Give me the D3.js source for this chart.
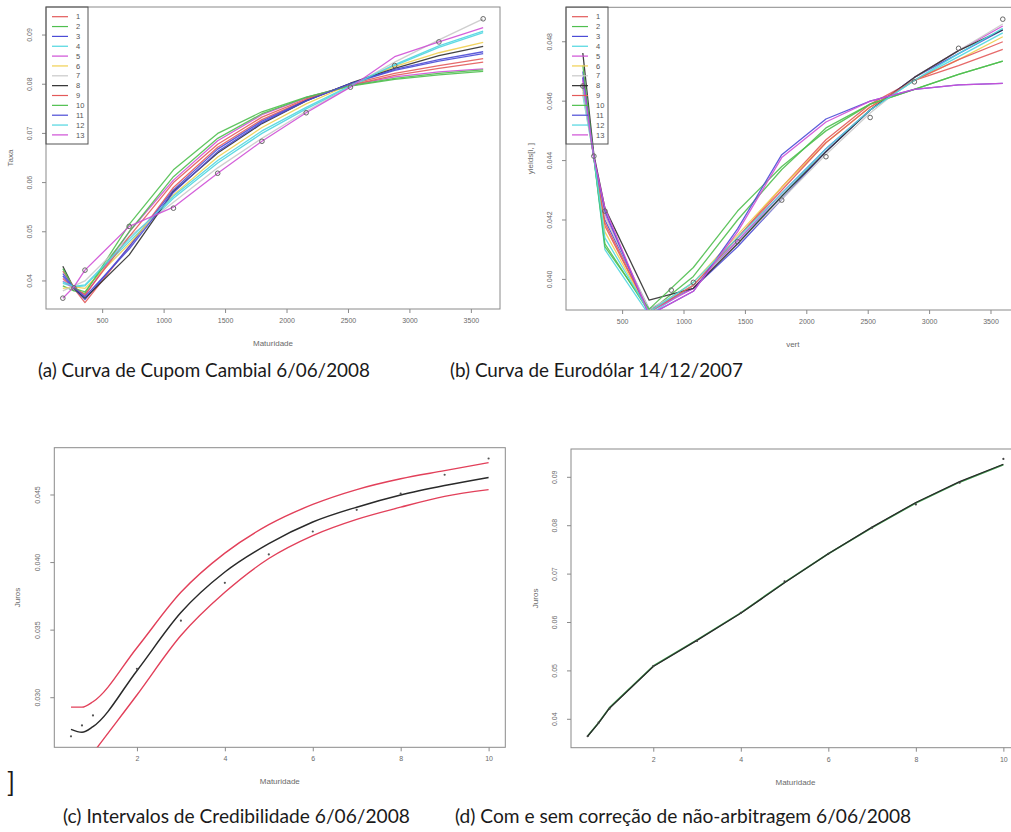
<!DOCTYPE html>
<html><head><meta charset="utf-8">
<script src="https://cdn.jsdelivr.net/npm/d3@7"></script>
<style>
html,body{margin:0;padding:0;background:#fff;}
svg{display:block;}
</style></head>
<body>
<svg id="c" width="1011" height="832"></svg>
<script>
// ---------- DATA ----------
const seriesNames = ["1","2","3","4","5","6","7","8","9","10","11","12","13"];
const palette = ["#e35a5a","#4fbf4f","#4b4bd6","#4fd6e0","#cf4fd6","#f0cf50","#c9c9c9","#2f2f2f"];

// (a) Curva de Cupom Cambial
const matA = [180, 270, 360, 720, 1080, 1440, 1800, 2160, 2520, 2880, 3240, 3600];
const yieldsA = [
  [0.0405,0.0385,0.0356,0.0470,0.0590,0.0672,0.0728,0.0768,0.0800,0.0822,0.0838,0.0852],
  [0.0390,0.0380,0.0375,0.0515,0.0626,0.0700,0.0744,0.0774,0.0796,0.0810,0.0819,0.0826],
  [0.0410,0.0385,0.0362,0.0470,0.0585,0.0668,0.0725,0.0767,0.0801,0.0828,0.0847,0.0862],
  [0.0395,0.0388,0.0390,0.0480,0.0568,0.0640,0.0700,0.0750,0.0795,0.0838,0.0875,0.0905],
  [0.0400,0.0385,0.0370,0.0500,0.0605,0.0685,0.0738,0.0772,0.0798,0.0815,0.0825,0.0831],
  [0.0385,0.0388,0.0385,0.0475,0.0575,0.0652,0.0712,0.0760,0.0800,0.0836,0.0864,0.0885],
  [0.0380,0.0390,0.0400,0.0490,0.0560,0.0630,0.0690,0.0745,0.0795,0.0845,0.0890,0.0933],
  [0.0430,0.0385,0.0365,0.0453,0.0582,0.0660,0.0720,0.0766,0.0802,0.0832,0.0858,0.0877],
  [0.0420,0.0388,0.0372,0.0490,0.0600,0.0678,0.0733,0.0770,0.0798,0.0818,0.0832,0.0845],
  [0.0425,0.0385,0.0378,0.0500,0.0612,0.0690,0.0740,0.0773,0.0797,0.0812,0.0822,0.0829],
  [0.0415,0.0386,0.0368,0.0465,0.0580,0.0663,0.0722,0.0766,0.0801,0.0830,0.0850,0.0866],
  [0.0398,0.0389,0.0392,0.0485,0.0572,0.0645,0.0705,0.0753,0.0797,0.0840,0.0878,0.0908],
  [0.0365,0.0388,0.0422,0.0511,0.0550,0.0619,0.0684,0.0742,0.0794,0.0856,0.0886,0.0915]
];
const obsMatA = [180, 270, 360, 720, 1080, 1440, 1800, 2160, 2520, 2880, 3240, 3600];
const obsA = [0.0365,0.0386,0.0422,0.0511,0.0548,0.0619,0.0684,0.0742,0.0794,0.0838,0.0886,0.0933];

// (b) Curva de Eurodólar
const matB = [180, 270, 360, 720, 1080, 1440, 1800, 2160, 2520, 2880, 3240, 3600];
const yieldsB = [
  [0.04650,0.0441,0.0418,0.0389,0.0398,0.0414,0.0431,0.0447,0.0459,0.0467,0.0472,0.04774],
  [0.04660,0.0441,0.0412,0.0389,0.0401,0.0420,0.0437,0.0451,0.0459,0.0464,0.0469,0.04735],
  [0.04700,0.0441,0.0420,0.0390,0.0397,0.0411,0.0427,0.0443,0.0457,0.0468,0.0476,0.04840],
  [0.04620,0.0441,0.0410,0.0388,0.0398,0.0413,0.0428,0.0444,0.0457,0.0467,0.0475,0.04830],
  [0.04680,0.0441,0.0422,0.0389,0.0397,0.0413,0.0429,0.0444,0.0457,0.0468,0.0477,0.04853],
  [0.04640,0.0441,0.0416,0.0389,0.0399,0.0415,0.0431,0.0446,0.0458,0.0467,0.0474,0.04817],
  [0.04630,0.0441,0.0421,0.0390,0.0398,0.0412,0.0427,0.0442,0.0456,0.0468,0.0477,0.04860],
  [0.04762,0.0442,0.0424,0.0393,0.0397,0.0412,0.0428,0.0443,0.0457,0.0468,0.0477,0.04840],
  [0.04660,0.0441,0.0419,0.0389,0.0398,0.0414,0.0430,0.0446,0.0458,0.0467,0.0474,0.04800],
  [0.04720,0.0441,0.0411,0.0390,0.0404,0.0423,0.0438,0.0450,0.0459,0.0464,0.0469,0.04735],
  [0.04680,0.0441,0.0423,0.0388,0.0396,0.0417,0.0442,0.0454,0.0460,0.0464,0.04655,0.0466],
  [0.04650,0.0441,0.0414,0.0389,0.0399,0.0414,0.0429,0.0444,0.0457,0.0467,0.0476,0.04845],
  [0.04670,0.0441,0.0424,0.0388,0.0396,0.0416,0.0441,0.0453,0.0460,0.0464,0.04655,0.0466]
];
const obsMatB = [180, 270, 360, 900, 1080, 1440, 1800, 2160, 2520, 2880, 3240, 3600];
const obsB = [0.04651,0.04415,0.0423,0.03964,0.0399,0.04127,0.04267,0.04413,0.04545,0.04665,0.04778,0.04876];

// (c) Intervalos de Credibilidade
const matC = [0.5, 0.75, 1, 2, 3, 4, 5, 6, 7, 8, 9, 10];
const meanC = [0.02766,0.02744,0.02786,0.0320,0.0363,0.0393,0.0414,0.0430,0.0441,0.0450,0.0457,0.0463];
const upperC = [0.0293,0.0293,0.0297,0.0337,0.0378,0.0407,0.0428,0.0443,0.0454,0.0462,0.0468,0.0474];
const lowerC = [0.0238,0.0248,0.0259,0.0302,0.0346,0.0378,0.0403,0.0420,0.0432,0.0441,0.0449,0.0454];
const obsC = [0.02714,0.02795,0.02869,0.03214,0.0357,0.0385,0.0406,0.0423,0.0439,0.0451,0.0465,0.0477];

// (d) Com e sem correção de não-arbitragem
const matD = [0.5, 0.75, 1, 2, 3, 4, 5, 6, 7, 8, 9, 10];
const withD = [0.03649,0.0392,0.0423,0.0509,0.0563,0.0619,0.0682,0.0742,0.0797,0.0848,0.0891,0.0927];
const withoutD = [0.03655,0.0393,0.0424,0.0510,0.0564,0.0620,0.0683,0.0742,0.0796,0.0847,0.0890,0.0926];
const obsD = [0.0365,0.0393,0.0422,0.0510,0.0562,0.0620,0.0685,0.0742,0.0796,0.0844,0.0889,0.0938];

const ticksX1 = [500,1000,1500,2000,2500,3000,3500];
const ticksX2 = [2,4,6,8,10];
const ticksYA = [0.04,0.05,0.06,0.07,0.08,0.09];
const ticksYB = [0.040,0.042,0.044,0.046,0.048];
const ticksYC = [0.030,0.035,0.040,0.045];
const ticksYD = [0.04,0.05,0.06,0.07,0.08,0.09];

const captions = [
  "(a) Curva de Cupom Cambial 6/06/2008",
  "(b) Curva de Eurodólar 14/12/2007",
  "(c) Intervalos de Credibilidade 6/06/2008",
  "(d) Com e sem correção de não-arbitragem 6/06/2008"
];

// ---------- DRAW ----------
const svg = d3.select("#c");
const axisFont = "'Liberation Sans', Arial, sans-serif";
const txtCol = "#6a6a6a";
const boxCol = "#8a8a8a";

function panel(cfg, id) {
  const x = d3.scaleLinear().domain(cfg.xd).range([cfg.l, cfg.r]);
  const y = d3.scaleLinear().domain(cfg.yd).range([cfg.b, cfg.t]);
  const g = svg.append("g");
  g.append("clipPath").attr("id", "clip" + id).append("rect")
    .attr("x", cfg.l).attr("y", cfg.t).attr("width", cfg.r - cfg.l).attr("height", cfg.b - cfg.t);
  const ax = g.append("g").attr("transform", `translate(0,${cfg.b})`)
    .call(d3.axisBottom(x).tickValues(cfg.xt).tickSize(4).tickPadding(5).tickFormat(d3.format("d")));
  const ay = g.append("g").attr("transform", `translate(${cfg.l},0)`)
    .call(d3.axisLeft(y).tickValues(cfg.yt).tickSize(4).tickPadding(0).tickFormat(d3.format(cfg.yf)));
  [ax, ay].forEach(a => {
    a.select(".domain").remove();
    a.selectAll("line").attr("stroke", boxCol);
    a.selectAll("text").attr("fill", txtCol).style("font-family", axisFont).style("font-size", "7px");
  });
  ay.selectAll("text").attr("text-anchor", "middle").attr("x", null).attr("dy", null)
    .attr("transform", d => `translate(${-cfg.ylabOff},${y(d)}) rotate(-90)`).attr("y", 0);
  ay.selectAll(".tick").attr("transform", null);
  ay.selectAll(".tick line").attr("y1", d => y(d)).attr("y2", d => y(d));
  g.append("rect").attr("x", cfg.l).attr("y", cfg.t).attr("width", cfg.r - cfg.l).attr("height", cfg.b - cfg.t)
    .attr("fill", "none").attr("stroke", boxCol).attr("stroke-width", 1);
  g.append("text").attr("x", (cfg.l + cfg.r) / 2).attr("y", cfg.b + 37).attr("text-anchor", "middle")
    .attr("fill", txtCol).style("font-family", axisFont).style("font-size", "8px").text(cfg.xlab);
  g.append("text").attr("transform", `translate(${cfg.l - cfg.ytitleOff},${(cfg.t + cfg.b) / 2}) rotate(-90)`)
    .attr("text-anchor", "middle").attr("fill", txtCol).style("font-family", axisFont).style("font-size", "8px").text(cfg.ylab);
  const plot = g.append("g").attr("clip-path", `url(#clip${id})`);
  return {x, y, g, plot};
}

function legend(g, x0, y0, w, h) {
  g.append("rect").attr("x", x0).attr("y", y0).attr("width", w).attr("height", h)
    .attr("fill", "none").attr("stroke", "#555").attr("stroke-width", 1);
  seriesNames.forEach((n, i) => {
    const yy = y0 + 9.7 + i * 9.85;
    g.append("line").attr("x1", x0 + 6).attr("x2", x0 + 22).attr("y1", yy).attr("y2", yy)
      .attr("stroke", palette[i % 8]).attr("stroke-width", 1.2);
    g.append("text").attr("x", x0 + 30).attr("y", yy + 2.6).attr("fill", "#555")
      .style("font-family", axisFont).style("font-size", "7.5px").text(n);
  });
}

function multi(p, mats, curves, obsM, obs) {
  const line = d3.line().x((d, i) => p.x(mats[i])).y(d => p.y(d));
  curves.forEach((c, i) => {
    p.plot.append("path").attr("d", line(c)).attr("fill", "none")
      .attr("stroke", palette[i % 8]).attr("stroke-width", 1.3).attr("stroke-linejoin", "round").attr("opacity", 0.9);
  });
  p.plot.selectAll(null).data(obs).enter().append("circle")
    .attr("cx", (d, i) => p.x(obsM[i])).attr("cy", d => p.y(d)).attr("r", 2.3)
    .attr("fill", "none").attr("stroke", "#666").attr("stroke-width", 1);
}

// Panel (a)
const pa = panel({xd:[43,3737], yd:[0.0343,0.0957], l:46, r:500, t:7, b:309, xt:ticksX1, yt:ticksYA, yf:".2f",
  xlab:"Maturidade", ylab:"Taxa", ylabOff:14, ytitleOff:33}, "a");
multi(pa, matA, yieldsA, obsMatA, obsA);
legend(pa.g, 46, 7, 42, 137);

// Panel (b)
const pb = panel({xd:[43,3737], yd:[0.03897,0.04916], l:566, r:1019.6, t:7.3, b:310, xt:ticksX1, yt:ticksYB, yf:".3f",
  xlab:"vert", ylab:"yields[i, ]", ylabOff:14, ytitleOff:33}, "b");
multi(pb, matB, yieldsB, obsMatB, obsB);
legend(pb.g, 566, 7, 42, 137);

// Panel (c)
const pc = panel({xd:[0.12,10.38], yd:[0.02633,0.0485], l:54.3, r:505.3, t:447.7, b:747.3, xt:ticksX2, yt:ticksYC, yf:".3f",
  xlab:"Maturidade", ylab:"Juros", ylabOff:14, ytitleOff:34}, "c");
{
  const line = d3.line().x((d, i) => pc.x(matC[i])).y(d => pc.y(d)).curve(d3.curveMonotoneX);
  pc.plot.append("path").attr("d", line(upperC)).attr("fill", "none").attr("stroke", "#e2405a").attr("stroke-width", 1.4);
  pc.plot.append("path").attr("d", line(lowerC)).attr("fill", "none").attr("stroke", "#e2405a").attr("stroke-width", 1.4);
  pc.plot.append("path").attr("d", line(meanC)).attr("fill", "none").attr("stroke", "#2a2a2a").attr("stroke-width", 1.5);
  pc.plot.selectAll(null).data(obsC).enter().append("circle")
    .attr("cx", (d, i) => pc.x(matC[i])).attr("cy", d => pc.y(d)).attr("r", 1.1).attr("fill", "#555");
}

// Panel (d)
const pd = panel({xd:[0.12,10.38], yd:[0.03413,0.09585], l:571, r:1020, t:449, b:747.7, xt:ticksX2, yt:ticksYD, yf:".2f",
  xlab:"Maturidade", ylab:"Juros", ylabOff:14, ytitleOff:33}, "d");
{
  const line = d3.line().x((d, i) => pd.x(matD[i])).y(d => pd.y(d));
  pd.plot.append("path").attr("d", line(withoutD)).attr("fill", "none").attr("stroke", "#3fa04f").attr("stroke-width", 1.6).attr("stroke-linejoin", "round");
  pd.plot.append("path").attr("d", line(withD)).attr("fill", "none").attr("stroke", "#2a2a2a").attr("stroke-width", 1.3).attr("stroke-linejoin", "round");
  pd.plot.selectAll(null).data(obsD).enter().append("circle")
    .attr("cx", (d, i) => pd.x(matD[i])).attr("cy", d => pd.y(d)).attr("r", 1.1).attr("fill", "#444");
}

// Captions
const capFont = "Lato, 'Open Sans', sans-serif";
function fitCaption(text, x, y, w) {
  const t = svg.append("text").attr("x", x).attr("y", y).attr("fill", "#1a1a1a")
    .style("font-family", capFont).style("font-size", "16px").text(text);
  const fs = 16 * w / t.node().getComputedTextLength();
  t.style("font-size", fs.toFixed(2) + "px");
  return fs;
}
function sizedCaption(text, x, y, fs) {
  svg.append("text").attr("x", x).attr("y", y).attr("fill", "#1a1a1a")
    .style("font-family", capFont).style("font-size", fs.toFixed(2) + "px").text(text);
}
const fsTop = fitCaption(captions[0], 38, 377, 332);
sizedCaption(captions[1], 450, 377, fsTop);
const fsBot = fitCaption(captions[2], 63, 823, 347);
sizedCaption(captions[3], 455, 823, fsBot);
svg.append("text").attr("x", 7).attr("y", 792).attr("fill", "#1a1a1a")
  .style("font-family", capFont).style("font-size", "26px").text("]");
</script>
</body></html>
